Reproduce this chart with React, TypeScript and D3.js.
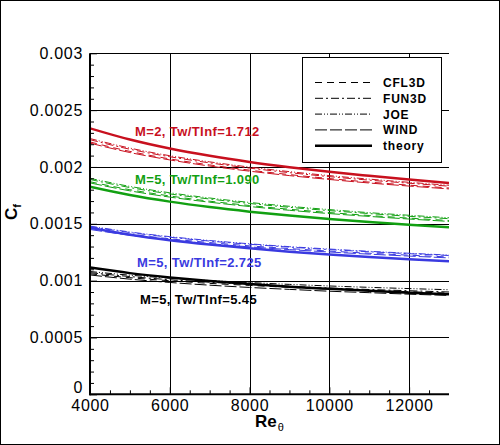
import React, { useEffect, useRef } from "react";
import * as d3 from "d3";

// Momentum-thickness Reynolds number stations
const RE = [4000, 5000, 6000, 7000, 8000, 9000, 10000, 11000, 12000, 13000];

// Case 1: M=2, Tw/TInf=1.712 (red)
const RED_CFL3D = [0.00222, 0.002137, 0.002071, 0.002018, 0.001972, 0.001933, 0.001898, 0.001867, 0.00184, 0.001815];
const RED_FUN3D = [0.00224, 0.002156, 0.00209, 0.002036, 0.00199, 0.00195, 0.001915, 0.001884, 0.001857, 0.001831];
const RED_JOE = [0.00225, 0.002166, 0.002099, 0.002045, 0.001999, 0.001959, 0.001924, 0.001893, 0.001865, 0.001839];
const RED_WIND = [0.00221, 0.002127, 0.002062, 0.002008, 0.001963, 0.001924, 0.00189, 0.001859, 0.001832, 0.001807];
const RED_THEORY = [0.00234, 0.002241, 0.002162, 0.002098, 0.002044, 0.001998, 0.001957, 0.001922, 0.001889, 0.00186];

// Case 2: M=5, Tw/TInf=1.090 (green)
const GREEN_CFL3D = [0.00187, 0.0018, 0.001745, 0.001699, 0.001661, 0.001628, 0.001599, 0.001573, 0.00155, 0.001529];
const GREEN_FUN3D = [0.00189, 0.001819, 0.001763, 0.001718, 0.001679, 0.001645, 0.001616, 0.00159, 0.001566, 0.001545];
const GREEN_JOE = [0.0019, 0.001829, 0.001773, 0.001727, 0.001688, 0.001654, 0.001625, 0.001598, 0.001575, 0.001553];
const GREEN_WIND = [0.00186, 0.00179, 0.001735, 0.00169, 0.001652, 0.001619, 0.00159, 0.001565, 0.001542, 0.001521];
const GREEN_THEORY = [0.001826, 0.001753, 0.001695, 0.001647, 0.001607, 0.001573, 0.001543, 0.001516, 0.001492, 0.00147];

// Case 3: M=5, Tw/TInf=2.725 (blue)
const BLUE_CFL3D = [0.00146, 0.001409, 0.001368, 0.001335, 0.001306, 0.001282, 0.00126, 0.001241, 0.001224, 0.001208];
const BLUE_FUN3D = [0.001475, 0.001423, 0.001382, 0.001348, 0.00132, 0.001295, 0.001273, 0.001254, 0.001237, 0.001221];
const BLUE_JOE = [0.00148, 0.001428, 0.001387, 0.001353, 0.001324, 0.001299, 0.001278, 0.001258, 0.001241, 0.001225];
const BLUE_WIND = [0.00145, 0.001399, 0.001359, 0.001325, 0.001297, 0.001273, 0.001252, 0.001233, 0.001216, 0.0012];
const BLUE_THEORY = [0.001465, 0.001404, 0.001356, 0.001317, 0.001284, 0.001255, 0.00123, 0.001208, 0.001188, 0.00117];

// Case 4: M=5, Tw/TInf=5.45 (black)
const BLACK_CFL3D = [0.00106, 0.001026, 0.000999, 0.000976, 0.000958, 0.000941, 0.000927, 0.000914, 0.000902, 0.00089];
const BLACK_FUN3D = [0.00107, 0.001036, 0.001008, 0.000986, 0.000967, 0.00095, 0.000935, 0.000922, 0.000911, 0.0009];
const BLACK_JOE = [0.00108, 0.001048, 0.001022, 0.001001, 0.000983, 0.000967, 0.000953, 0.000941, 0.00093, 0.00092];
const BLACK_WIND = [0.00105, 0.001013, 0.000984, 0.00096, 0.00094, 0.000923, 0.000907, 0.000894, 0.000881, 0.00087];
const BLACK_THEORY = [0.001115, 0.001066, 0.001028, 0.000996, 0.00097, 0.000947, 0.000928, 0.00091, 0.000894, 0.00088];

const CODES = ["CFL3D", "FUN3D", "JOE", "WIND", "theory"];
const CASE_LABELS = ["M=2, Tw/TInf=1.712", "M=5, Tw/TInf=1.090", "M=5, Tw/TInf=2.725", "M=5, Tw/TInf=5.45"];
const X_TICKS = [4000, 6000, 8000, 10000, 12000];
const Y_TICKS = [0, 0.0005, 0.001, 0.0015, 0.002, 0.0025, 0.003];

const CASE_COLORS = ["#c8101e", "#12a012", "#3a3ae0", "#000000"];
const DASHES: Record<string, string | null> = {
  CFL3D: "7,5",
  FUN3D: "8,3,2,3",
  JOE: "7,2,1,2,1,2",
  WIND: "12,3",
  theory: null,
};
const LABEL_POS = [
  { x: 135, y: 136 },
  { x: 135, y: 184 },
  { x: 137, y: 267 },
  { x: 140, y: 304 },
];

const FONT = "'Liberation Sans', Arial, Helvetica, sans-serif";

export default function App() {
  const ref = useRef<SVGSVGElement>(null);

  useEffect(() => {
    const W = 500;
    const H = 445;
    const svg = d3.select(ref.current);
    svg.selectAll("*").remove();

    const x = d3.scaleLinear().domain([4000, 13000]).range([90, 449]);
    const y = d3.scaleLinear().domain([0, 0.003]).range([394.3, 53.3]);

    svg
      .append("rect")
      .attr("x", 0.5)
      .attr("y", 0.5)
      .attr("width", W - 1)
      .attr("height", H - 1)
      .attr("fill", "white")
      .attr("stroke", "black");

    // grid
    const grid = svg.append("g").attr("stroke", "black").attr("stroke-width", 1);
    grid
      .selectAll("line.v")
      .data(X_TICKS.slice(1))
      .join("line")
      .attr("class", "v")
      .attr("x1", (d) => Math.round(x(d)) + 0.5)
      .attr("x2", (d) => Math.round(x(d)) + 0.5)
      .attr("y1", y(0))
      .attr("y2", y(0.003));
    grid
      .selectAll("line.h")
      .data(Y_TICKS.slice(1))
      .join("line")
      .attr("class", "h")
      .attr("x1", x(4000))
      .attr("x2", x(13000))
      .attr("y1", (d) => Math.round(y(d)) + 0.5)
      .attr("y2", (d) => Math.round(y(d)) + 0.5);

    // clip
    svg
      .append("clipPath")
      .attr("id", "plotclip")
      .append("rect")
      .attr("x", x(4000))
      .attr("y", y(0.003))
      .attr("width", x(13000) - x(4000))
      .attr("height", y(0) - y(0.003));

    const cases = [
      [RED_CFL3D, RED_FUN3D, RED_JOE, RED_WIND, RED_THEORY],
      [GREEN_CFL3D, GREEN_FUN3D, GREEN_JOE, GREEN_WIND, GREEN_THEORY],
      [BLUE_CFL3D, BLUE_FUN3D, BLUE_JOE, BLUE_WIND, BLUE_THEORY],
      [BLACK_CFL3D, BLACK_FUN3D, BLACK_JOE, BLACK_WIND, BLACK_THEORY],
    ];

    const line = d3
      .line<number>()
      .x((_, i) => x(RE[i]))
      .y((d) => y(d))
      .curve(d3.curveMonotoneX);

    const curves = svg.append("g").attr("clip-path", "url(#plotclip)");
    cases.forEach((series, ci) => {
      series.forEach((vals, si) => {
        const code = CODES[si];
        const p = curves
          .append("path")
          .attr("d", line(vals))
          .attr("fill", "none")
          .attr("stroke", CASE_COLORS[ci])
          .attr("stroke-width", code === "theory" ? 2.5 : 1);
        if (DASHES[code]) p.attr("stroke-dasharray", DASHES[code] as string);
      });
    });

    // axes
    const yMinor = d3
      .range(1, 30)
      .filter((i) => i % 5 !== 0)
      .map((i) => i * 0.0001);
    const xMinor = d3
      .range(4500, 13000, 500)
      .filter((v) => (v - 4000) % 2000 !== 0);

    const yAxis = svg
      .append("g")
      .attr("transform", `translate(${x(4000)},0)`)
      .call(
        d3
          .axisLeft(y)
          .tickValues(Y_TICKS)
          .tickFormat((d) => String(d))
          .tickSizeInner(-7)
          .tickSizeOuter(0)
          .tickPadding(7)
      );
    yAxis.select(".domain").remove();
    yAxis
      .attr("font-family", FONT)
      .attr("font-size", 16)
      .selectAll("text")
      .attr("fill", "black")
      .attr("letter-spacing", "0.7px")
      .attr("dy", (d: any) => (d === 0 ? "-0.1em" : "0.32em"));

    const yMinorAxis = svg
      .append("g")
      .attr("transform", `translate(${x(4000)},0)`)
      .call(d3.axisLeft(y).tickValues(yMinor).tickFormat(() => "").tickSizeInner(-4).tickSizeOuter(0));
    yMinorAxis.select(".domain").remove();

    const xAxis = svg
      .append("g")
      .attr("transform", `translate(0,${y(0)})`)
      .call(
        d3
          .axisBottom(x)
          .tickValues(X_TICKS)
          .tickFormat((d) => String(d))
          .tickSizeInner(-7)
          .tickSizeOuter(0)
          .tickPadding(5)
      );
    xAxis.select(".domain").remove();
    xAxis
      .attr("font-family", FONT)
      .attr("font-size", 16)
      .selectAll("text")
      .attr("fill", "black")
      .attr("letter-spacing", "0.7px");

    const xMinorAxis = svg
      .append("g")
      .attr("transform", `translate(0,${y(0)})`)
      .call(d3.axisBottom(x).tickValues(xMinor).tickFormat(() => "").tickSizeInner(-4).tickSizeOuter(0));
    xMinorAxis.select(".domain").remove();

    // thick axis lines
    svg
      .append("line")
      .attr("x1", x(4000))
      .attr("x2", x(4000))
      .attr("y1", y(0.003))
      .attr("y2", y(0) + 1)
      .attr("stroke", "black")
      .attr("stroke-width", 2);
    svg
      .append("line")
      .attr("x1", x(4000) - 1)
      .attr("x2", x(13000))
      .attr("y1", y(0))
      .attr("y2", y(0))
      .attr("stroke", "black")
      .attr("stroke-width", 2);

    // axis titles
    const xt = svg
      .append("text")
      .attr("x", (x(4000) + x(13000)) / 2)
      .attr("y", 427)
      .attr("text-anchor", "middle")
      .attr("font-family", FONT)
      .attr("fill", "black");
    xt.append("tspan").attr("font-size", 17).attr("font-weight", "bold").text("Re");
    xt.append("tspan").attr("font-size", 11).attr("dy", 4).attr("dx", 1).text("θ");

    const yt = svg
      .append("text")
      .attr("transform", "translate(17,212) rotate(-90)")
      .attr("text-anchor", "middle")
      .attr("font-family", FONT)
      .attr("fill", "black");
    yt.append("tspan").attr("font-size", 17).attr("font-weight", "bold").text("C");
    yt.append("tspan").attr("font-size", 11).attr("font-weight", "bold").attr("dy", 4).text("f");

    // case labels
    CASE_LABELS.forEach((lab, i) => {
      svg
        .append("text")
        .attr("x", LABEL_POS[i].x)
        .attr("y", LABEL_POS[i].y)
        .attr("font-family", FONT)
        .attr("font-size", 13)
        .attr("font-weight", "bold")
        .attr("letter-spacing", "0.4px")
        .attr("fill", CASE_COLORS[i])
        .text(lab);
    });

    // legend
    const lg = svg.append("g");
    lg.append("rect")
      .attr("x", 302.5)
      .attr("y", 57.5)
      .attr("width", 139)
      .attr("height", 105)
      .attr("fill", "white")
      .attr("stroke", "black")
      .attr("stroke-width", 1);
    CODES.forEach((code, i) => {
      const cy = 82.5 + i * 15.8;
      const l = lg
        .append("line")
        .attr("x1", 315)
        .attr("x2", 372)
        .attr("y1", cy)
        .attr("y2", cy)
        .attr("stroke", "black")
        .attr("stroke-width", code === "theory" ? 2.5 : 1);
      if (DASHES[code]) l.attr("stroke-dasharray", DASHES[code] as string);
      lg.append("text")
        .attr("x", 383)
        .attr("y", cy + 4.5)
        .attr("font-family", FONT)
        .attr("font-size", 12)
        .attr("font-weight", "bold")
        .attr("letter-spacing", "0.8px")
        .attr("fill", "black")
        .text(code);
    });
  }, []);

  return (
    <svg
      ref={ref}
      width={500}
      height={445}
      style={{ position: "absolute", left: 0, top: 0, display: "block", background: "white" }}
    />
  );
}
